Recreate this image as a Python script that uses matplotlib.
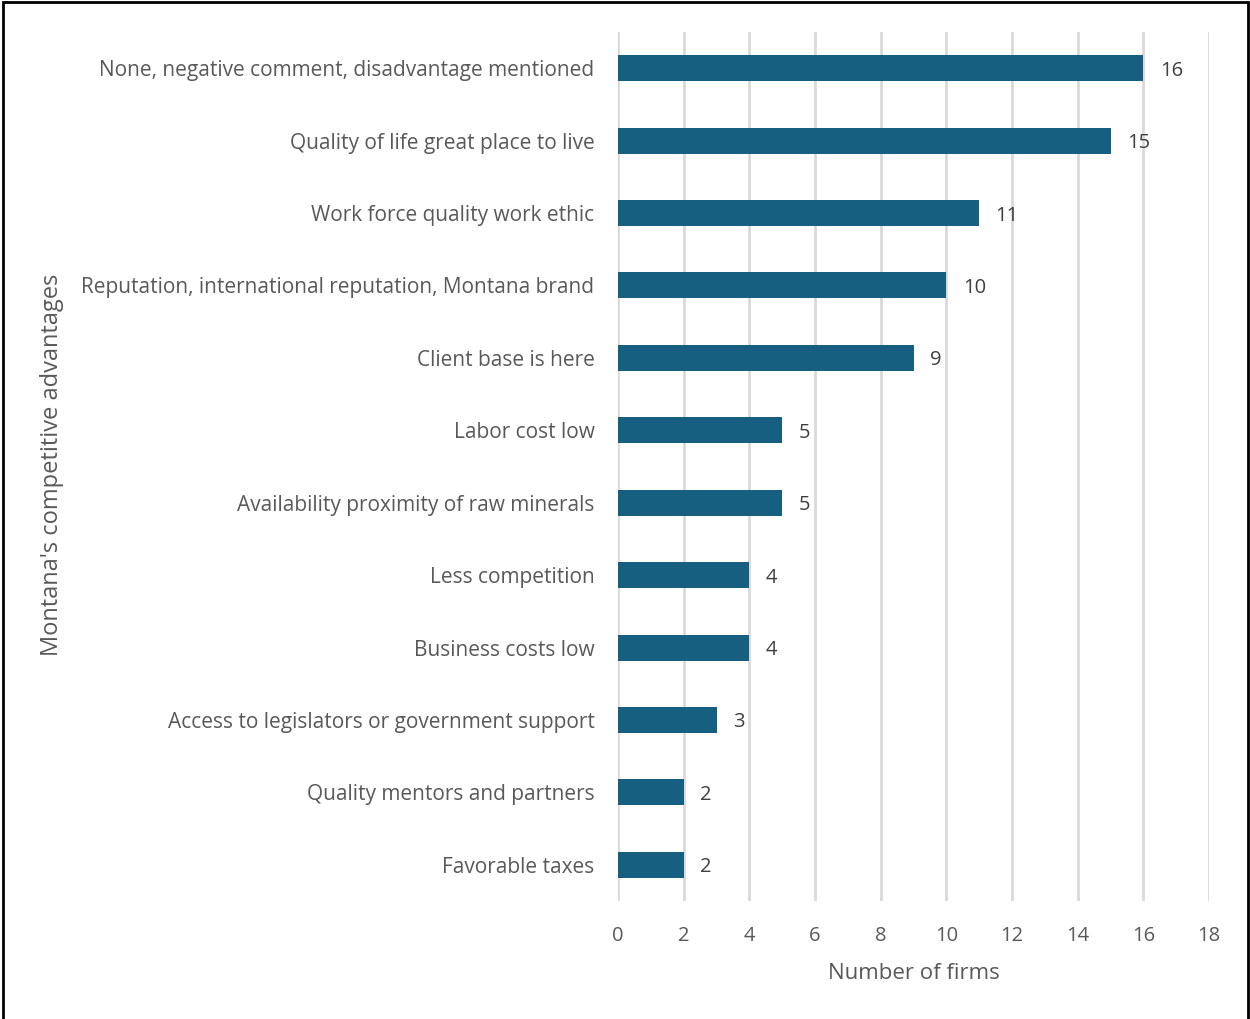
import matplotlib.pyplot as plt
from matplotlib.patches import Rectangle

plt.rcParams['font.family'] = ['Open Sans', 'DejaVu Sans']

advantages = [
    'None, negative comment, disadvantage mentioned',
    'Quality of life great place to live',
    'Work force quality work ethic',
    'Reputation, international reputation, Montana brand',
    'Client base is here',
    'Labor cost low',
    'Availability proximity of raw minerals',
    'Less competition',
    'Business costs low',
    'Access to legislators or government support',
    'Quality mentors and partners',
    'Favorable taxes',
]
firms = [16, 15, 11, 10, 9, 5, 5, 4, 4, 3, 2, 2]

bar_color = '#175f80'
text_color = '#595959'

fig = plt.figure(figsize=(12.5, 10.19), dpi=100)
ax = fig.add_axes([0.4944, 0.1158, 0.4728, 0.8528])

ypos = list(range(len(advantages)))
ax.barh(ypos, firms, height=0.36, color=bar_color, zorder=3)
for y, v in zip(ypos, firms):
    ax.text(v + 0.5, y, str(v), va='center_baseline', ha='left', fontsize=14.5, color='#404040')

ax.set_ylim(len(advantages) - 0.5, -0.5)
ax.set_xlim(0, 18)
ax.set_xticks(range(0, 19, 2))
ax.set_yticks(ypos)
ax.set_yticklabels(advantages)
ax.tick_params(axis='y', length=0, pad=17, labelsize=15, labelcolor=text_color)
ax.tick_params(axis='x', length=0, pad=18, labelsize=14.5, labelcolor=text_color)
ax.grid(axis='x', color='#d9d9d9', linewidth=2, zorder=0)
for s in ax.spines.values():
    s.set_visible(False)

ax.set_xlabel('Number of firms', fontsize=16, color=text_color, labelpad=12)
fig.text(0.042, 0.544, "Montana's competitive advantages", rotation=90,
         va='center', ha='center', fontsize=17, color=text_color)

# outer frame
fig.patches.append(Rectangle((0.002, -0.01), 0.996, 1.008, transform=fig.transFigure,
                             fill=False, edgecolor='black', linewidth=2))

fig.savefig('out.png', dpi=100)
